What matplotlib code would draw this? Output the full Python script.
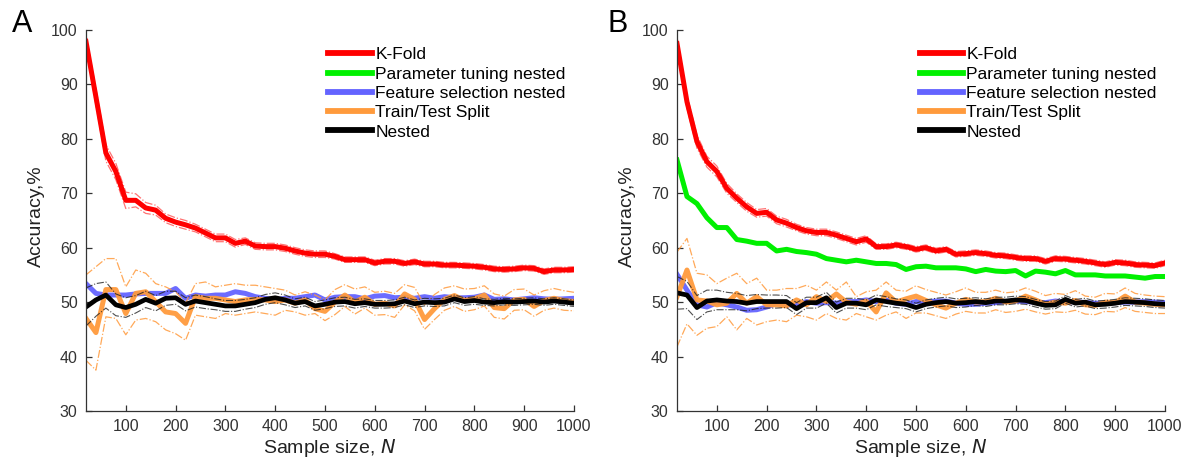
import matplotlib
matplotlib.use("Agg")
import matplotlib.pyplot as plt
from matplotlib.lines import Line2D

plt.rcParams['font.family'] = ['Liberation Sans', 'DejaVu Sans']

sample_size = list(range(20, 1001, 20))

# ---------------- panel A ----------------
kfold_a = [97.9, 87.7, 77.4, 74.0, 68.7, 68.7, 67.3, 66.9, 65.4, 64.7,
           64.2, 63.6, 62.7, 61.8, 61.8, 60.8, 61.2, 60.3, 60.2, 60.2,
           59.9, 59.4, 59.0, 58.8, 58.8, 58.4, 57.8, 57.8, 57.8, 57.2,
           57.5, 57.5, 57.1, 57.4, 57.0, 57.0, 56.8, 56.8, 56.7, 56.6,
           56.4, 56.1, 56.0, 56.1, 56.3, 56.2, 55.6, 55.9, 55.9, 56.0]
kfold_a_spread = [1.2, 1.5, 1.5, 1.5, 1.5, 1.2, 1.0, 0.9, 0.8, 0.8,
                  0.8, 0.7, 0.7, 0.7, 0.7, 0.7, 0.6, 0.6, 0.6, 0.6,
                  0.6, 0.6, 0.6, 0.6, 0.6, 0.5, 0.5, 0.5, 0.5, 0.5,
                  0.5, 0.5, 0.5, 0.5, 0.5, 0.5, 0.5, 0.5, 0.5, 0.5,
                  0.5, 0.5, 0.5, 0.5, 0.5, 0.5, 0.5, 0.5, 0.5, 0.5]
feature_a = [53.4, 51.6, 51.3, 51.3, 51.3, 51.5, 51.6, 51.6, 51.6, 52.5,
             50.7, 51.3, 51.1, 51.3, 51.3, 51.9, 51.6, 51.0, 50.7, 50.4,
             50.7, 50.7, 51.0, 51.3, 50.4, 50.9, 51.0, 51.0, 50.6, 51.1,
             51.2, 50.8, 50.9, 50.7, 51.0, 50.7, 51.0, 50.8, 50.8, 50.9,
             51.3, 50.5, 50.6, 50.4, 50.6, 50.8, 50.6, 50.5, 50.6, 50.7]
split_a = [47.0, 44.4, 52.3, 52.3, 47.9, 51.6, 51.9, 50.1, 48.2, 47.9,
           46.1, 51.0, 50.7, 50.7, 50.4, 50.1, 50.4, 50.5, 50.4, 50.1,
           50.4, 49.8, 50.4, 48.8, 48.3, 50.0, 51.3, 50.0, 50.9, 49.6,
           49.8, 49.3, 51.5, 50.5, 46.8, 48.8, 50.5, 51.2, 50.3, 50.6,
           51.3, 49.0, 48.8, 50.4, 50.5, 49.2, 50.3, 50.7, 50.3, 50.1]
split_a_upper = [55.0, 56.5, 58.0, 58.0, 52.8, 55.9, 55.3, 53.4, 52.8, 51.9,
                 49.8, 53.4, 53.7, 52.8, 53.1, 53.4, 53.1, 53.1, 52.8, 52.5,
                 52.2, 51.3, 51.9, 51.3, 50.4, 52.3, 53.2, 52.4, 52.8, 51.8,
                 52.0, 51.6, 53.2, 52.7, 49.5, 51.4, 52.6, 53.0, 52.4, 52.5,
                 53.0, 51.5, 51.1, 52.3, 52.4, 51.3, 52.1, 52.5, 52.1, 51.8]
split_a_lower = [39.3, 37.5, 47.3, 47.0, 44.0, 46.7, 47.0, 46.4, 44.9, 44.2,
                 43.0, 47.6, 47.3, 47.0, 47.9, 47.6, 47.9, 48.2, 47.9, 47.6,
                 48.5, 48.2, 47.6, 47.9, 46.6, 47.7, 49.2, 47.8, 48.9, 47.6,
                 47.7, 47.2, 49.5, 48.4, 45.0, 46.8, 48.5, 49.2, 48.3, 48.6,
                 49.3, 47.2, 46.9, 48.5, 48.6, 47.4, 48.5, 48.9, 48.5, 48.4]
nested_a = [49.1, 50.4, 51.3, 49.5, 49.0, 49.6, 50.5, 49.8, 50.7, 50.8,
            49.6, 50.2, 49.9, 49.6, 49.3, 49.3, 49.6, 49.9, 50.5, 50.8,
            50.4, 49.8, 50.1, 49.3, 49.6, 50.0, 50.1, 49.7, 49.9, 49.6,
            49.6, 49.7, 50.2, 49.7, 50.0, 49.9, 50.0, 50.6, 50.1, 50.3,
            50.0, 49.9, 50.1, 50.0, 50.1, 50.2, 50.0, 50.2, 50.0, 49.8]
nested_a_spread = [3.5, 3.0, 2.4, 2.0, 1.8, 1.6, 1.5, 1.4, 1.3, 1.2,
                   1.2, 1.1, 1.1, 1.0, 1.0, 1.0, 0.9, 0.9, 0.9, 0.9,
                   0.9, 0.8, 0.8, 0.8, 0.8, 0.8, 0.8, 0.8, 0.7, 0.7,
                   0.7, 0.7, 0.7, 0.7, 0.7, 0.7, 0.7, 0.7, 0.7, 0.7,
                   0.6, 0.6, 0.6, 0.6, 0.6, 0.6, 0.6, 0.6, 0.6, 0.6]

# ---------------- panel B ----------------
kfold_b = [97.5, 86.8, 79.5, 75.8, 74.0, 70.9, 69.1, 67.5, 66.3, 66.5,
           65.1, 64.5, 63.7, 63.1, 62.8, 62.8, 62.3, 61.7, 61.1, 61.6,
           60.2, 60.2, 60.5, 60.2, 59.7, 60.0, 59.4, 59.7, 58.8, 58.9,
           59.1, 58.9, 58.6, 58.5, 58.2, 58.0, 58.0, 57.5, 58.0, 57.9,
           57.7, 57.5, 57.2, 56.9, 57.3, 57.2, 56.9, 56.8, 56.7, 57.2]
kfold_b_spread = [1.2, 1.2, 1.2, 1.0, 1.0, 0.9, 0.8, 0.8, 0.7, 0.7,
                  0.7, 0.7, 0.6, 0.6, 0.6, 0.6, 0.6, 0.6, 0.6, 0.6,
                  0.5, 0.5, 0.5, 0.5, 0.5, 0.5, 0.5, 0.5, 0.5, 0.5,
                  0.5, 0.5, 0.5, 0.5, 0.5, 0.5, 0.5, 0.5, 0.5, 0.5,
                  0.5, 0.5, 0.5, 0.5, 0.5, 0.5, 0.5, 0.5, 0.5, 0.5]
param_b = [76.1, 69.4, 68.1, 65.5, 63.7, 63.7, 61.5, 61.2, 60.8, 60.8,
           59.4, 59.7, 59.3, 59.1, 58.8, 58.0, 57.7, 57.4, 57.7, 57.4,
           57.1, 57.1, 56.9, 56.0, 56.5, 56.6, 56.3, 56.3, 56.3, 56.1,
           55.6, 56.0, 55.7, 55.6, 55.8, 54.8, 55.7, 55.5, 55.2, 55.8,
           55.0, 55.0, 55.0, 54.8, 54.8, 54.8, 54.6, 54.4, 54.7, 54.7]
feature_b = [55.1, 52.2, 49.5, 49.1, 49.9, 49.5, 49.1, 48.5, 48.6, 49.1,
             49.8, 49.5, 49.5, 50.1, 49.8, 49.9, 49.8, 50.1, 50.1, 50.4,
             50.1, 50.4, 49.8, 49.6, 50.1, 50.0, 50.2, 50.2, 49.8, 49.6,
             49.6, 49.8, 49.9, 50.1, 50.2, 50.1, 50.0, 49.9, 50.2, 50.0,
             50.1, 49.9, 49.8, 49.8, 49.9, 50.0, 50.0, 50.1, 50.0, 49.9]
split_b = [51.0, 55.9, 50.4, 50.2, 49.5, 49.8, 51.6, 49.8, 51.0, 49.5,
           49.5, 49.3, 50.4, 49.5, 51.0, 50.1, 51.5, 50.0, 49.6, 50.2,
           48.2, 51.7, 50.0, 50.6, 51.1, 50.3, 49.5, 48.9, 49.8, 50.5,
           50.0, 50.1, 50.7, 50.0, 50.2, 51.1, 50.4, 49.6, 50.0, 49.8,
           50.3, 49.5, 49.4, 50.0, 49.9, 51.1, 50.0, 49.8, 49.6, 49.5]
split_b_upper = [59.2, 61.7, 55.3, 55.0, 53.4, 54.4, 55.3, 53.4, 54.4, 52.2,
                 52.2, 52.5, 52.5, 53.1, 52.2, 53.7, 52.2, 53.7, 51.0, 51.9,
                 52.2, 53.7, 52.2, 52.0, 53.0, 52.3, 51.8, 51.3, 51.9, 52.6,
                 51.8, 51.8, 52.2, 51.7, 51.9, 52.6, 52.0, 51.2, 51.6, 51.4,
                 52.1, 51.1, 50.9, 51.6, 51.5, 52.6, 51.6, 51.3, 51.1, 51.0]
split_b_lower = [41.8, 46.0, 43.9, 45.2, 45.5, 47.3, 44.9, 47.0, 45.8, 46.4,
                 46.7, 46.4, 47.6, 47.3, 46.7, 47.9, 47.0, 46.7, 47.9, 47.3,
                 46.7, 47.6, 48.2, 47.0, 48.0, 48.0, 47.5, 47.0, 47.8, 48.3,
                 48.0, 48.0, 48.6, 48.1, 48.3, 48.7, 48.2, 47.8, 48.2, 48.1,
                 48.5, 47.8, 47.7, 48.3, 48.2, 49.0, 48.3, 48.1, 47.9, 47.9]
nested_b = [51.7, 51.3, 49.0, 50.2, 50.4, 50.2, 50.1, 49.8, 50.1, 50.1,
            50.1, 50.1, 48.8, 49.9, 49.9, 50.8, 49.0, 49.8, 49.8, 49.5,
            50.4, 50.1, 49.8, 49.6, 49.0, 49.6, 49.9, 50.1, 49.8, 49.9,
            50.1, 49.9, 50.2, 50.2, 50.4, 50.3, 49.8, 49.4, 49.5, 50.5,
            49.8, 50.0, 49.5, 49.6, 49.8, 50.1, 50.0, 49.9, 49.7, 49.6]
nested_b_spread = [3.0, 2.5, 2.2, 2.0, 1.8, 1.6, 1.5, 1.4, 1.3, 1.2,
                   1.2, 1.1, 1.1, 1.0, 1.0, 1.0, 1.0, 0.9, 0.9, 0.9,
                   0.9, 0.9, 0.8, 0.8, 0.8, 0.8, 0.8, 0.8, 0.8, 0.8,
                   0.7, 0.7, 0.7, 0.7, 0.7, 0.7, 0.7, 0.7, 0.7, 0.7,
                   0.7, 0.7, 0.7, 0.7, 0.7, 0.7, 0.7, 0.7, 0.7, 0.7]

labels = ["K-Fold", "Parameter tuning nested", "Feature selection nested",
          "Train/Test Split", "Nested"]
RED = "#ff0000"
GREEN = "#00f000"
BLUE = "#6464ff"
ORANGE = "#ff9a3c"
BLACK = "#000000"
AXCOL = "#333333"


def band(ax, x, mid, spread, color, alpha, lw=0.9):
    up = [m + s for m, s in zip(mid, spread)]
    lo = [m - s for m, s in zip(mid, spread)]
    ax.plot(x, up, ls="-.", color=color, lw=lw, alpha=alpha)
    ax.plot(x, lo, ls="-.", color=color, lw=lw, alpha=alpha)


def style_axes(ax):
    ax.set_xlim(20, 1000)
    ax.set_ylim(30, 100)
    ax.set_xticks(range(100, 1001, 100))
    ax.set_yticks(range(30, 101, 10))
    for s in ["top", "right"]:
        ax.spines[s].set_visible(False)
    for s in ["left", "bottom"]:
        ax.spines[s].set_color(AXCOL)
        ax.spines[s].set_linewidth(0.9)
    ax.tick_params(direction="in", length=4, width=0.9, color=AXCOL,
                   labelcolor="#333333", labelsize=11.5, pad=6)
    ax.set_xlabel("Sample size, $\\mathit{N}$", fontsize=14, color="#222222", labelpad=2)
    ax.set_ylabel("Accuracy,%", fontsize=14, color="#222222")
    ax.yaxis.set_label_coords(-0.085, 0.51)
    handles = [Line2D([], [], color=c, lw=4.2) for c in [RED, GREEN, BLUE, ORANGE, BLACK]]
    ax.legend(handles, labels, loc="upper left", bbox_to_anchor=(0.497, 0.955),
              frameon=False, fontsize=12.5, handlelength=2.5, handletextpad=0.2,
              labelspacing=0.24, borderpad=0, borderaxespad=0)


fig = plt.figure(figsize=(11.89, 4.67), dpi=100)
ax_a = fig.add_axes([0.0723, 0.12, 0.4104, 0.8158])
ax_b = fig.add_axes([0.5694, 0.12, 0.4104, 0.8158])

# panel A
band(ax_a, sample_size, kfold_a, kfold_a_spread, RED, 0.55)
ax_a.plot(sample_size, kfold_a, color=RED, lw=3.6)
ax_a.plot(sample_size, feature_a, color=BLUE, lw=3.6, alpha=0.95)
ax_a.plot(sample_size, split_a_upper, ls="-.", color=ORANGE, lw=0.9, alpha=0.85)
ax_a.plot(sample_size, split_a_lower, ls="-.", color=ORANGE, lw=0.9, alpha=0.85)
ax_a.plot(sample_size, split_a, color=ORANGE, lw=3.6, alpha=0.95)
band(ax_a, sample_size, nested_a, nested_a_spread, "#222222", 0.8, lw=0.8)
ax_a.plot(sample_size, nested_a, color=BLACK, lw=3.4)
style_axes(ax_a)

# panel B
band(ax_b, sample_size, kfold_b, kfold_b_spread, RED, 0.55)
ax_b.plot(sample_size, kfold_b, color=RED, lw=3.6)
ax_b.plot(sample_size, param_b, color=GREEN, lw=3.6)
ax_b.plot(sample_size, feature_b, color=BLUE, lw=3.6, alpha=0.95)
ax_b.plot(sample_size, split_b_upper, ls="-.", color=ORANGE, lw=0.9, alpha=0.85)
ax_b.plot(sample_size, split_b_lower, ls="-.", color=ORANGE, lw=0.9, alpha=0.85)
ax_b.plot(sample_size, split_b, color=ORANGE, lw=3.6, alpha=0.95)
band(ax_b, sample_size, nested_b, nested_b_spread, "#222222", 0.8, lw=0.8)
ax_b.plot(sample_size, nested_b, color=BLACK, lw=3.4)
style_axes(ax_b)

fig.text(12 / 1189, 1 - 31.5 / 467, "A", fontsize=22, ha="left", va="baseline")
fig.text(607 / 1189, 1 - 32.5 / 467, "B", fontsize=22, ha="left", va="baseline")

fig.savefig("out.png", dpi=100)
